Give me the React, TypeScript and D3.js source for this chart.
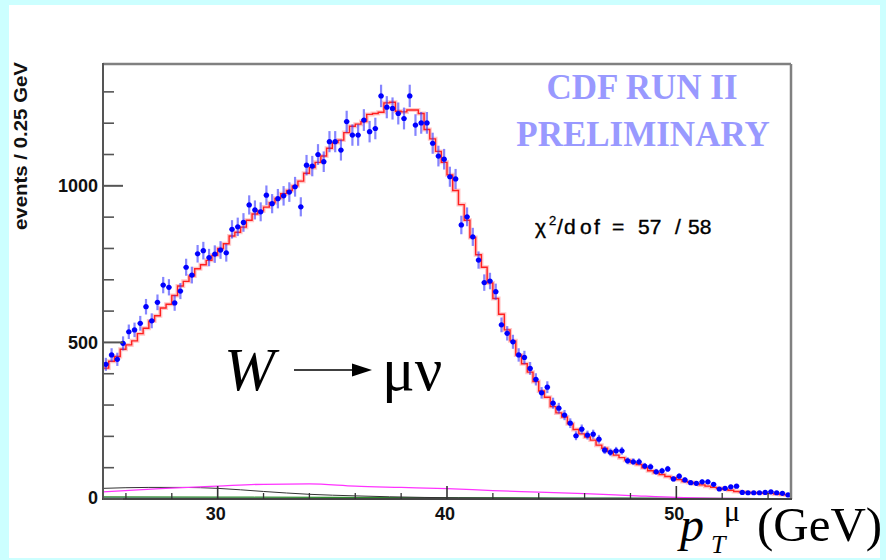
import React from "react";
import * as d3 from "d3";

// ---- data ----
const BIN_LOW = 25;
const BIN_WIDTH = 0.25;

const DATA_COUNTS = [
  430, 460, 446, 497, 534, 540, 561, 614, 569, 628,
  683, 676, 626, 664, 740, 715, 783, 793, 771, 782,
  795, 786, 861, 869, 883, 939, 923, 917, 970, 943,
  959, 968, 980, 997, 933, 1066, 1063, 1100, 1077, 1141,
  1141, 1114, 1205, 1162, 1162, 1210, 1173, 1183, 1287, 1251,
  1247, 1231, 1215, 1287, 1194, 1201, 1201, 1136, 1095, 1085,
  1029, 1022, 875, 901, 837, 763, 691, 696, 662, 556,
  529, 502, 460, 452, 417, 382, 339, 357, 306, 290,
  268, 242, 202, 223, 204, 207, 191, 156, 149, 154,
  154, 122, 119, 119, 105, 103, 87, 90, 96, 64,
  73, 61, 52, 50, 55, 55, 47, 32, 34, 39,
  41, 21, 20, 20, 20, 21, 23, 20, 18, 13,
];

const FIT_COUNTS = [
  418, 440, 455, 478, 492, 505, 528, 545, 568, 585,
  610, 622, 650, 680, 695, 712, 735, 748, 762, 778,
  800, 815, 840, 852, 868, 890, 910, 920, 932, 946,
  960, 975, 985, 1000, 1015, 1040, 1058, 1075, 1095, 1120,
  1138, 1146, 1170, 1190, 1197, 1205, 1228, 1231, 1235, 1265,
  1267, 1238, 1236, 1242, 1242, 1231, 1180, 1150, 1110, 1075,
  1035, 985, 940, 890, 835, 780, 740, 690, 640, 590,
  540, 505, 460, 432, 405, 375, 345, 325, 295, 275,
  262, 240, 222, 208, 198, 188, 172, 162, 152, 140,
  132, 124, 116, 110, 100, 90, 84, 78, 72, 68,
  62, 56, 53, 49, 45, 41, 37, 34, 31, 28,
  24, 22, 21, 20, 19, 18, 18, 16, 14, 13,
];

// background components: [pT, events]
const BKG_MAGENTA: [number, number][] = [
  [25, 23], [27.5, 33], [30, 41], [32, 47], [34, 48], [36, 41], [38, 37],
  [40, 33], [42, 27], [44, 22], [46, 17], [48, 11], [50, 5], [52, 2], [55, 0],
];
const BKG_GRAY: [number, number][] = [
  [25, 34], [27, 37], [28.5, 37], [30, 34], [32, 24], [34, 15], [36, 10],
  [39, 5], [42, 3], [46, 1], [55, 0],
];
const BKG_GREEN: [number, number][] = [
  [25, 7], [30, 6], [35, 5], [40, 4], [45, 3], [50, 2], [55, 1],
];
const BKG_BLUE: [number, number][] = [
  [25, 2], [40, 1.5], [55, 1],
];

const X_MAJOR = [30, 40, 50];
const X_MINOR = [26, 28, 32, 34, 36, 38, 42, 44, 46, 48, 52, 54];
const Y_MAJOR = [0, 500, 1000];
const Y_MINOR = [100, 200, 300, 400, 600, 700, 800, 900, 1100, 1200, 1300];

// chi2 label pieces: [text, x]
const CHI_PIECES: [string, number][] = [
  ["/", 557], ["d", 564], ["o", 580], ["f", 594], ["=", 612], ["57", 638], ["/", 675], ["58", 688],
];

const W = 886;
const H = 560;
const SANS = "'Liberation Sans', Arial, Helvetica, sans-serif";
const SERIF = "'Liberation Serif', 'Times New Roman', Times, serif";

export default function App() {
  const x = d3.scaleLinear().domain([25, 55]).range([103, 791]);
  const y = d3.scaleLinear().domain([0, 1389]).range([499, 64]);

  const centers = DATA_COUNTS.map((_, i) => BIN_LOW + (i + 0.5) * BIN_WIDTH);
  const fitPts: [number, number][] = FIT_COUNTS.map((v, i) => [BIN_LOW + i * BIN_WIDTH, v]);
  fitPts.push([BIN_LOW + FIT_COUNTS.length * BIN_WIDTH, FIT_COUNTS[FIT_COUNTS.length - 1]]);

  const stepLine = d3
    .line<[number, number]>()
    .x((d) => x(d[0]))
    .y((d) => y(d[1]))
    .curve(d3.curveStepAfter);
  const smooth = d3
    .line<[number, number]>()
    .x((d) => x(d[0]))
    .y((d) => y(d[1]))
    .curve(d3.curveMonotoneX);

  const halfBinPx = (x(BIN_WIDTH) - x(0)) / 2;

  return (
    <svg
      width={W}
      height={H}
      style={{ position: "absolute", left: 0, top: 0, display: "block" }}
    >
      <rect x={0} y={0} width={W} height={H} fill="#ccffff" />
      <rect x={9} y={5} width={871} height={553} fill="#ffffff" />

      {/* background components */}
      <path d={smooth(BKG_BLUE) || ""} fill="none" stroke="#1a237e" strokeWidth={1.5} />
      <path d={smooth(BKG_GREEN) || ""} fill="none" stroke="#2e8b2e" strokeWidth={1.2} />
      <path d={smooth(BKG_GRAY) || ""} fill="none" stroke="#333333" strokeWidth={1} />
      <path d={smooth(BKG_MAGENTA) || ""} fill="none" stroke="#ff33ff" strokeWidth={1.3} />

      {/* fit histogram */}
      <path d={stepLine(fitPts) || ""} fill="none" stroke="#ff9999" strokeWidth={4} strokeOpacity={0.55} />
      <path d={stepLine(fitPts) || ""} fill="none" stroke="#ff2020" strokeWidth={1.4} />

      {/* data points */}
      {DATA_COUNTS.map((v, i) => {
        const cx = x(centers[i]);
        const err = Math.sqrt(v);
        return (
          <g key={i}>
            <line
              x1={cx}
              x2={cx}
              y1={y(v + err)}
              y2={y(Math.max(0, v - err))}
              stroke="#3333ff"
              strokeOpacity={0.6}
              strokeWidth={2.2}
            />
            <line
              x1={cx - halfBinPx}
              x2={cx + halfBinPx}
              y1={y(v)}
              y2={y(v)}
              stroke="#2222ff"
              strokeOpacity={0.6}
              strokeWidth={1.6}
            />
            <circle cx={cx} cy={y(v)} r={2.6} fill="#0000ff" />
          </g>
        );
      })}

      {/* frame */}
      <line x1={103} x2={791} y1={64} y2={64} stroke="#808080" strokeWidth={2.5} />
      <line x1={791} x2={791} y1={64} y2={499} stroke="#808080" strokeWidth={2.5} />
      <line x1={103} x2={103} y1={63} y2={500} stroke="#555555" strokeWidth={2} />
      <line x1={102} x2={792} y1={499} y2={499} stroke="#444444" strokeWidth={2} />

      {/* y ticks */}
      {Y_MAJOR.map((v) => (
        <line key={"ym" + v} x1={103} x2={123} y1={y(v)} y2={y(v)} stroke="#555555" strokeWidth={2} />
      ))}
      {Y_MINOR.map((v) => (
        <line key={"yn" + v} x1={103} x2={114} y1={y(v)} y2={y(v)} stroke="#555555" strokeWidth={1.6} />
      ))}
      {Y_MAJOR.map((v) => (
        <text
          key={"yl" + v}
          x={98}
          y={v === 0 ? 504 : y(v) + 6.5}
          textAnchor="end"
          fontFamily={SANS}
          fontWeight="bold"
          fontSize={18}
          fill="#111"
        >
          {v}
        </text>
      ))}

      {/* x ticks */}
      {X_MAJOR.map((v) => (
        <line key={"xm" + v} x1={x(v)} x2={x(v)} y1={499} y2={486} stroke="#333333" strokeWidth={1.6} />
      ))}
      {X_MINOR.map((v) => (
        <line key={"xn" + v} x1={x(v)} x2={x(v)} y1={499} y2={493} stroke="#333333" strokeWidth={1.3} />
      ))}
      {X_MAJOR.map((v) => (
        <text
          key={"xl" + v}
          x={x(v) - 2}
          y={520}
          textAnchor="middle"
          fontFamily={SANS}
          fontWeight="bold"
          fontSize={18}
          fill="#111"
        >
          {v}
        </text>
      ))}

      {/* y axis title */}
      <text
        transform="translate(27,146) rotate(-90)"
        textAnchor="middle"
        fontFamily={SANS}
        fontWeight="bold"
        fontSize={19}
        textLength={168}
        lengthAdjust="spacingAndGlyphs"
        fill="#111"
      >
        events / 0.25 GeV
      </text>

      {/* CDF label */}
      <text x={642} y={99} textAnchor="middle" fontFamily={SERIF} fontWeight="bold" fontSize={35} fill="#9999ff">
        CDF RUN II
      </text>
      <text x={643} y={146} textAnchor="middle" fontFamily={SERIF} fontWeight="bold" fontSize={35} fill="#9999ff">
        PRELIMINARY
      </text>

      {/* chi2 */}
      <text x={535} y={234} fontFamily={SANS} fontSize={21} fill="#000" stroke="#000" strokeWidth={0.4}>
        χ
      </text>
      <text x={549} y={225} fontFamily={SANS} fontSize={13} fill="#000" stroke="#000" strokeWidth={0.3}>
        2
      </text>
      {CHI_PIECES.map(([t, px], i) => (
        <text key={"c" + i} x={px} y={234} fontFamily={SANS} fontSize={21} fill="#000" stroke="#000" strokeWidth={0.4}>
          {t}
        </text>
      ))}

      {/* W -> mu nu */}
      <text x={224} y={390} fontFamily={SERIF} fontStyle="italic" fontSize={61} fill="#000">
        W
      </text>
      <line x1={294} x2={354} y1={370} y2={370} stroke="#000" strokeWidth={1.3} />
      <polygon points="352,363.5 372,370 352,376.5" fill="#000" />
      <text x={382} y={390} fontFamily={SERIF} fontSize={61} fill="#000">
        μν
      </text>

      {/* x axis title */}
      <text x={680} y={541} fontFamily={SERIF} fontStyle="italic" fontSize={48} fill="#000">
        p
      </text>
      <text x={711} y={553} fontFamily={SERIF} fontStyle="italic" fontSize={26} fill="#000">
        T
      </text>
      <text x={724} y={521} fontFamily={SERIF} fontSize={30} fill="#000">
        μ
      </text>
      <text x={757} y={541} fontFamily={SERIF} fontSize={49} fill="#000">
        (GeV)
      </text>
    </svg>
  );
}
